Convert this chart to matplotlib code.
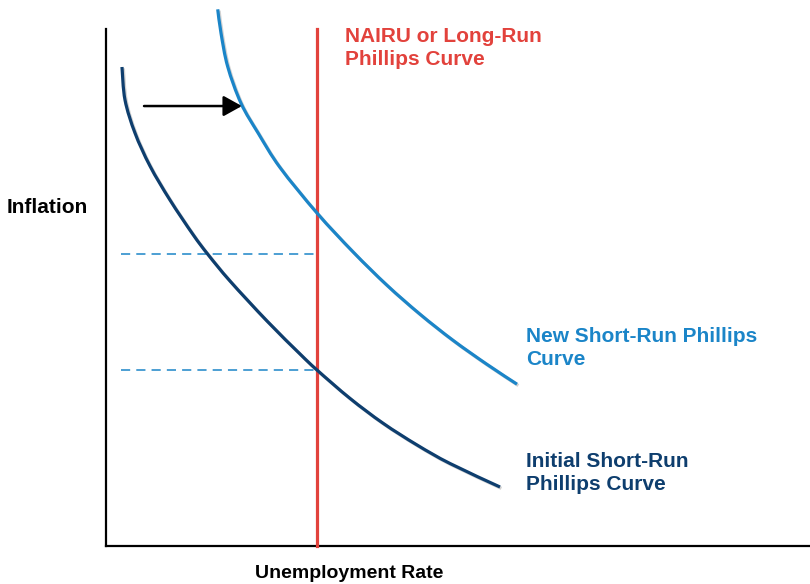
import matplotlib
matplotlib.use("Agg")
import matplotlib.pyplot as plt
import matplotlib.patheffects as pe
from matplotlib.path import Path
from matplotlib.patches import PathPatch
import numpy as np

plt.rcParams['font.family'] = ['Liberation Sans', 'DejaVu Sans']

# curves (unemployment, inflation), arbitrary units
initial_x = [0.227, 0.270, 0.412, 0.625, 0.909, 1.236, 1.449, 1.761, 2.287,
             2.756, 2.997, 3.466, 3.935, 4.418, 4.886, 5.597]
initial_y = [9.265, 8.627, 7.988, 7.350, 6.692, 6.025, 5.638, 5.126, 4.352,
             3.714, 3.404, 2.855, 2.375, 1.954, 1.596, 1.141]

new_x = [1.587, 1.634, 1.729, 1.918, 2.163, 2.472, 2.997, 3.509,
         3.991, 4.460, 4.929, 5.412, 5.838]
new_y = [10.381, 9.917, 9.271, 8.563, 7.983, 7.321, 6.441, 5.689,
         5.044, 4.484, 3.979, 3.513, 3.130]

nairu = 3.0
dashed_levels = [5.65, 3.40]
dashed_start = 0.21
arrow_from = (0.54, 8.51)
arrow_to = (1.93, 8.51)

RED = '#e2423c'
BLUE = '#1b85c8'
NAVY = '#0e3e6e'


def smooth_path(xs, ys):
    # catmull-rom through the read points, drawn as cubic bezier segments
    p = np.column_stack([xs, ys])
    ext = np.vstack([p[0], p, p[-1]])
    verts = [p[0]]
    codes = [Path.MOVETO]
    for i in range(1, len(ext) - 2):
        p0, p1, p2, p3 = ext[i - 1], ext[i], ext[i + 1], ext[i + 2]
        verts += [p1 + (p2 - p0) / 6, p2 - (p3 - p1) / 6, p2]
        codes += [Path.CURVE4] * 3
    return Path(verts, codes)


fig = plt.figure(figsize=(8.1, 5.84), dpi=100)
ax = fig.add_axes([106 / 810, 38 / 584, 704 / 810, 517 / 584])
ax.set_xlim(0, 10)
ax.set_ylim(0, 10)
ax.set_xticks([])
ax.set_yticks([])
for s in ['top', 'right']:
    ax.spines[s].set_visible(False)
for s in ['left', 'bottom']:
    ax.spines[s].set_linewidth(1.6)
    ax.spines[s].set_color('black')

shadow = [pe.SimpleLineShadow(offset=(1, -1), shadow_color='gray', alpha=0.35), pe.Normal()]

for lvl in dashed_levels:
    ax.plot([dashed_start, nairu], [lvl, lvl], color=BLUE, lw=1.1,
            dashes=(6, 4), zorder=2)

ax.plot([nairu, nairu], [0, 10], color=RED, lw=2.3, zorder=3, clip_on=False)

for xs, ys, col in [(initial_x, initial_y, NAVY), (new_x, new_y, BLUE)]:
    patch = PathPatch(smooth_path(xs, ys), fill=False, edgecolor=col, lw=2.3,
                      capstyle='butt', zorder=4, clip_on=False)
    patch.set_path_effects(shadow)
    ax.add_patch(patch)

ax.annotate('', xy=arrow_to, xytext=arrow_from,
            arrowprops=dict(arrowstyle='-|>,head_length=0.45,head_width=0.25',
                            color='black', lw=1.8, mutation_scale=25,
                            shrinkA=0, shrinkB=0), zorder=5)

# baseline of the last line
ax.text(3.39, 9.30, 'NAIRU or Long-Run\nPhillips Curve', color=RED,
        fontsize=15, fontweight='bold', va='baseline', ha='left',
        linespacing=1.3, clip_on=False)
ax.text(5.97, 3.50, 'New Short-Run Phillips\nCurve', color=BLUE,
        fontsize=15, fontweight='bold', va='baseline', ha='left',
        linespacing=1.3, clip_on=False)
ax.text(5.97, 1.08, 'Initial Short-Run\nPhillips Curve', color=NAVY,
        fontsize=15, fontweight='bold', va='baseline', ha='left',
        linespacing=1.3, clip_on=False)

fig.text(7 / 810, (584 - 213) / 584, 'Inflation', fontsize=15,
         fontweight='bold', va='baseline', ha='left')
fig.text(255 / 810, (584 - 578) / 584, 'Unemployment Rate', fontsize=14,
         fontweight='bold', va='baseline', ha='left')

fig.savefig('out.png', dpi=100)
